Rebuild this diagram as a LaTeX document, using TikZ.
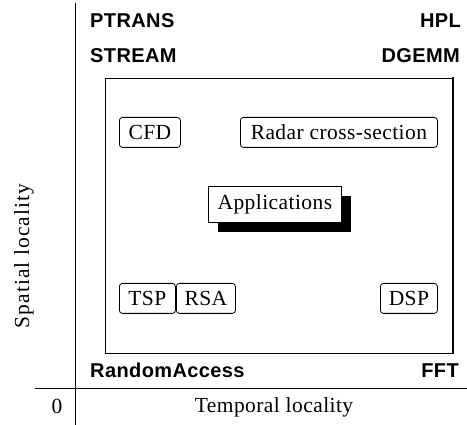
\documentclass[tikz,border=0pt]{standalone}
\usepackage{fontspec}
\setmainfont{Liberation Serif}[LetterSpace=2]
\newfontfamily\benchfont{Liberation Sans}[LetterSpace=2]
\usetikzlibrary{shadows}
\begin{document}
\begin{tikzpicture}[x=1pt,y=-1pt,
  every node/.style={inner sep=0pt},
  bench/.style={font=\benchfont\bfseries\fontsize{20}{20}\selectfont},
  lbl/.style={font=\fontsize{21.5}{21.5}\selectfont},
  app/.style={draw, rounded corners=3pt, line width=0.8pt, lbl,
              minimum height=30pt, anchor=north west},
  axis/.style={line width=0.9pt}]
\useasboundingbox (0,0) rectangle (467,425);

% axes
\coordinate (ytop) at (75,3);
\coordinate (ybot) at (75,425);
\coordinate (xleft) at (35,388);
\coordinate (xright) at (467,388);
\draw[axis] (ytop) -- (ybot);
\draw[axis] (xleft) -- (xright);

\node[lbl, anchor=base] (zero) at (57,414) {0};
\node[lbl, anchor=base] (tlab) at (274,413) {Temporal locality};
\node[lbl, rotate=90] (slab) at (24,256) {\addfontfeature{LetterSpace=5}Spatial locality};

% benchmark corners
\node[bench, anchor=base west] (ptrans) at (90,28) {PTRANS};
\node[bench, anchor=base east] (hpl) at (461,28) {HPL};
\node[bench, anchor=base west] (stream) at (90,63) {STREAM};
\node[bench, anchor=base east] (dgemm) at (460,63) {DGEMM};
\node[bench, anchor=base west] (ra) at (90,378) {RandomAccess};
\node[bench, anchor=base east] (fft) at (459,378) {FFT};

% application region
\draw[line width=0.8pt] (105,78) rectangle (453,353);
\draw[line width=2pt] (453,77) -- (453,353);

\node[app, minimum width=61pt] (cfd) at (119,117) {CFD};
\node[app, minimum width=197pt] (radar) at (240,117) {Radar cross-section};
\node[app, minimum width=56pt] (tsp) at (119,283) {TSP};
\node[app, minimum width=59pt] (rsa) at (176,283) {RSA};
\node[app, minimum width=57pt] (dsp) at (380,283) {DSP};

\node[draw, fill=white, line width=0.8pt, lbl, minimum width=133pt,
      minimum height=36pt, anchor=north west,
      drop shadow={shadow xshift=10pt, shadow yshift=-10pt, fill=black, opacity=1}]
      (apps) at (208,186) {Applications};
\end{tikzpicture}
\end{document}
